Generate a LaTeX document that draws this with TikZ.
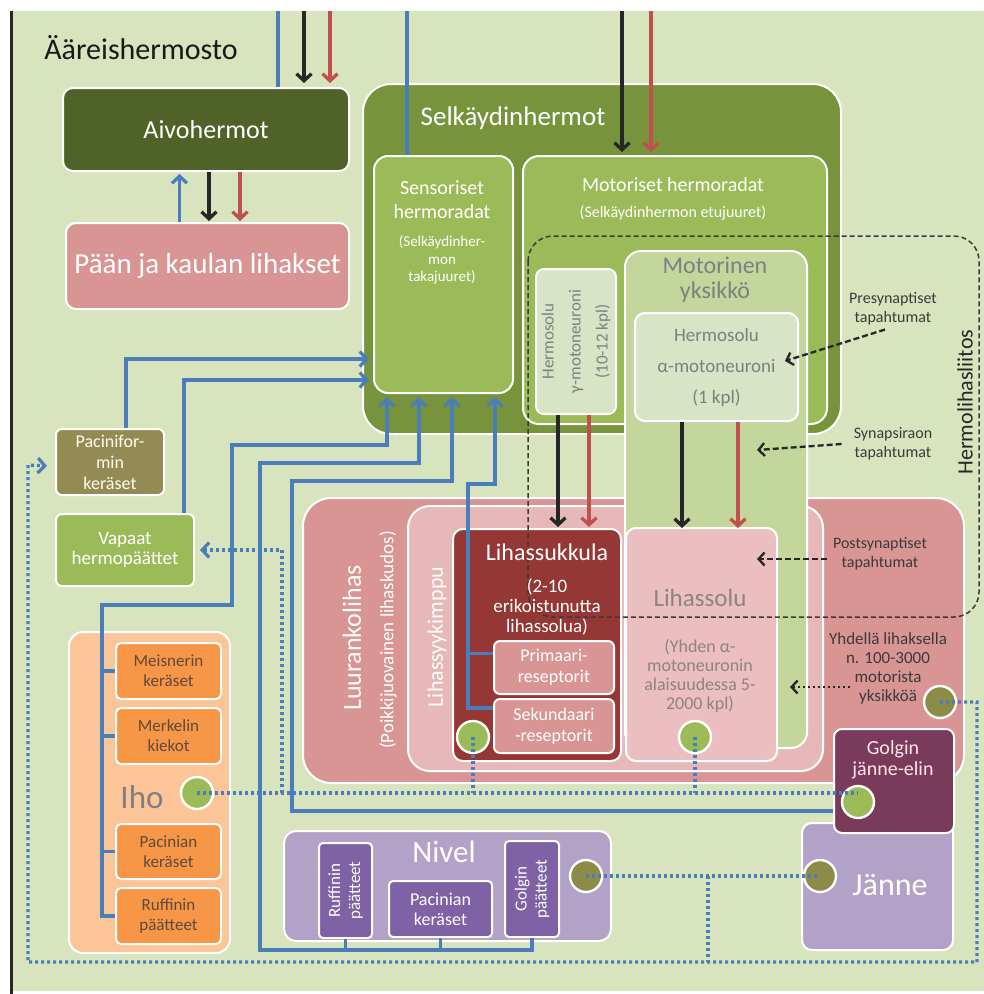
\documentclass[tikz,border=0pt]{standalone}
\usepackage{fontspec}
\setmainfont{Carlito}
\usepackage{tikz}
\usetikzlibrary{arrows.meta}

\definecolor{bgreen}{HTML}{D7E4BD}
\definecolor{dgreen}{HTML}{4F6228}
\definecolor{selk}{HTML}{77933C}
\definecolor{sens}{HTML}{9BBB59}
\definecolor{pale}{HTML}{D8E4C6}
\definecolor{mgreen}{HTML}{C3D69B}
\definecolor{rose}{HTML}{D99594}
\definecolor{blush}{HTML}{E6B9B8}
\definecolor{soluc}{HTML}{EBBFBF}
\definecolor{wine}{HTML}{953735}
\definecolor{plum}{HTML}{7A3B5B}
\definecolor{lilac}{HTML}{B3A2C7}
\definecolor{violet}{HTML}{7F62A5}
\definecolor{peach}{HTML}{FBC598}
\definecolor{orng}{HTML}{F79646}
\definecolor{khaki}{HTML}{948A54}
\definecolor{nblue}{HTML}{4A7EBB}
\definecolor{mred}{HTML}{C0504D}
\definecolor{mblack}{HTML}{262626}
\definecolor{olive}{HTML}{8C8C48}
\definecolor{graytxt}{HTML}{7F7F7F}
\definecolor{notetxt}{HTML}{3A3A3A}
\definecolor{solutxt}{HTML}{8F8283}
\definecolor{ihotxt}{HTML}{5C4A3C}

\begin{document}
\begin{tikzpicture}[x=1pt,y=-1pt,
    box/.style={draw=white,line width=2pt,inner sep=0pt,anchor=north west,rounded corners=#1},
    box/.default=8pt,
    ball/.style={circle,draw=white,line width=2.4pt,minimum size=32pt,inner sep=0pt,fill=#1},
    lbl/.style={align=center,inner sep=0pt},
    tip/.style={-{Straight Barb[length=7pt,width=15pt]}},
    nerve/.style={draw=nblue,line width=3.3pt},
    mot/.style={draw=#1,line width=3.3pt},
    sig/.style={draw=nblue,line width=3.2pt,dash pattern=on 3pt off 3pt},
    note/.style={draw=mblack,line width=2.3pt,dash pattern=on 6pt off 3pt,-{Straight Barb[length=6pt,width=13pt]}},
    frame/.style={draw=notetxt,line width=1.5pt,dash pattern=on 5pt off 3pt,rounded corners=25pt}]
    \useasboundingbox (0,0) rectangle (984,994);
    \fill[bgreen] (12,11) rectangle (984,991);
    \draw[line width=3pt,black!85] (11,11) -- (11,994);

    % spinal nerves
    \node[box=28pt,fill=selk,minimum width=478pt,minimum height=350pt] (selk) at (362,83) {};
    \node[box=14pt,fill=sens,minimum width=139pt,minimum height=237pt] (sens) at (373,155) {};
    \node[box=16pt,fill=sens,minimum width=304pt,minimum height=268pt] (motor) at (522,155) {};
    \node[box,fill=pale,minimum width=80pt,minimum height=145pt] (gamma) at (535,268) {};

    % muscle
    \node[box=28pt,fill=rose,minimum width=661pt,minimum height=285pt] (luu) at (302,497) {};
    \node[box=22pt,fill=blush,minimum width=415pt,minimum height=265pt] (kimppu) at (407,505) {};
    \node[box=10pt,fill=wine,minimum width=168pt,minimum height=232pt] (sukkula) at (452,528) {};
    \node[box=6pt,fill=rose,minimum width=120pt,minimum height=53pt] (prim) at (493,640) {};
    \node[box=6pt,fill=rose,minimum width=120pt,minimum height=54pt] (sek) at (493,698) {};
    \node[box=16pt,fill=mgreen,minimum width=182pt,minimum height=497pt] (yks) at (624,250) {};
    \node[box=10pt,fill=pale,minimum width=163pt,minimum height=108pt] (alpha) at (634,312) {};
    \node[box=10pt,fill=soluc,minimum width=151pt,minimum height=233pt] (solu) at (625,527) {};

    % tendon and joint
    \node[box=10pt,fill=lilac,minimum width=151pt,minimum height=127pt] (janne) at (801,822) {};
    \node[box=8pt,fill=plum,minimum width=120pt,minimum height=104pt] (golgi) at (833,728) {};
    \node[box=12pt,fill=lilac,minimum width=327pt,minimum height=110pt] (nivel) at (283,830) {};
    \node[box=4pt,fill=violet,minimum width=53pt,minimum height=95pt] (ruffn) at (318,842) {};
    \node[box=4pt,fill=violet,minimum width=103pt,minimum height=56pt] (pacn) at (388,880) {};
    \node[box=4pt,fill=violet,minimum width=54pt,minimum height=96pt] (golgn) at (504,840) {};

    % skin
    \node[box=14pt,fill=peach,minimum width=161pt,minimum height=321pt] (iho) at (68,631) {};
    \node[box=5pt,fill=orng,minimum width=105pt,minimum height=56pt] (meis) at (115,642) {};
    \node[box=5pt,fill=orng,minimum width=105pt,minimum height=56pt] (merk) at (115,707) {};
    \node[box=5pt,fill=orng,minimum width=105pt,minimum height=55pt] (paci) at (115,823) {};
    \node[box=5pt,fill=orng,minimum width=105pt,minimum height=56pt] (ruffi) at (115,887) {};
    \node[box=6pt,fill=khaki,minimum width=108pt,minimum height=66pt] (pacif) at (55,428) {};
    \node[box=6pt,fill=sens,minimum width=138pt,minimum height=72pt] (vapaat) at (55,513) {};

    % head
    \node[box=10pt,fill=dgreen,minimum width=286pt,minimum height=83pt] (aivo) at (62,87) {};
    \node[box=10pt,fill=rose,minimum width=283pt,minimum height=86pt] (paan) at (65,222) {};

    \node[ball=sens] (csuk) at (473,737) {};
    \node[ball=sens] (csol) at (695,737) {};
    \node[ball=olive] (cyhd) at (940,702) {};
    \node[ball=sens] (cgol) at (858,802) {};
    \node[ball=sens] (ciho) at (197,793) {};
    \node[ball=olive] (cniv) at (586,876) {};
    \node[ball=olive] (cjan) at (820,876) {};

    \coordinate (t1) at (278,11);
    \coordinate (t2) at (304,11);
    \coordinate (t3) at (330,11);
    \coordinate (t4) at (407,11);
    \coordinate (t5) at (622,11);
    \coordinate (t6) at (651,11);
    \coordinate (in1) at (369,359);
    \coordinate (in2) at (369,380);
    \coordinate (vj) at (282,793);

    % up and down
    \draw[nerve] (t1) -- (t1 |- aivo.north);
    \draw[mot=mblack,tip] (t2) -- ++(0,72);
    \draw[mot=mred,tip] (t3) -- ++(0,72);
    \draw[nerve,tip] ([xshift=-28pt]paan.north) -- ++(0,-48);
    \draw[mot=mblack,tip] ([xshift=3pt]aivo.south) -- ++(0,49);
    \draw[mot=mred,tip] ([xshift=34pt]aivo.south) -- ++(0,49);
    \draw[nerve] (t4) -- (t4 |- sens.north);
    \draw[mot=mblack,tip] (t5) -- ++(0,141);
    \draw[mot=mred,tip] (t6) -- ++(0,141);
    \draw[mot=mblack,tip] ([xshift=-18pt]gamma.south) -- ++(0,112);
    \draw[mot=mred,tip] ([xshift=13pt]gamma.south) -- ++(0,112);
    \draw[mot=mblack,tip] ([xshift=-34.5pt]alpha.south) -- ++(0,106);
    \draw[mot=mred,tip] ([xshift=21.5pt]alpha.south) -- ++(0,106);

    % sensory paths
    \draw[nerve,tip] ([xshift=16pt]pacif.north) |- (in1);
    \draw[nerve,tip] ([xshift=59pt]vapaat.north) |- (in2);
    \draw[nerve,tip] (ruffi.west) -| (102,605) -| (232,445) -| ([xshift=14pt,yshift=-3pt]sens.south west);
    \draw[nerve] (meis.west) -- ++(-13,0);
    \draw[nerve] (merk.west) -- ++(-13,0);
    \draw[nerve] (paci.west) -- ++(-13,0);
    \draw[nerve,tip] (golgn.south) -- ++(0,12) -| (260,463) -| ([xshift=46pt,yshift=-3pt]sens.south west);
    \draw[nerve] (ruffn.south) -- ++(0,11);
    \draw[nerve] (pacn.south) -- ++(0,12);
    \draw[nerve,tip] ([yshift=-30pt]golgi.west) -| (292,481) -| ([xshift=79pt,yshift=-3pt]sens.south west);
    \draw[nerve,tip] ([yshift=18pt]sek.west) -| (468,484) -| ([xshift=122pt,yshift=-3pt]sens.south west);
    \draw[nerve] ([yshift=14pt]prim.west) -- ++(-25,0);

    % receptor signals
    \draw[sig] (ciho.center) -- (cgol.center |- ciho.center);
    \draw[sig] (csuk.center) -- (csuk.center |- ciho.center);
    \draw[sig] (csol.center) -- (csol.center |- ciho.center);
    \draw[sig,tip] (vj) |- ([xshift=5pt]vapaat.east);
    \draw[sig] (cniv.center) -- (cjan.center);
    \draw[sig] (708,876) -- (708,962);
    \draw[sig,tip] (cyhd.center) -| (977,962) -| (28,465) -- ([xshift=-8pt,yshift=-4pt]pacif.west);

    \draw[frame] (528,236) rectangle (979,617);

    % texts
    \node[lbl,black!90,font=\fontsize{30}{36}\selectfont] (title) at (141,48) {Ääreishermosto};
    \node[lbl,white,font=\fontsize{26}{30}\selectfont] at (aivo.center) {Aivohermot};
    \node[lbl,white,font=\fontsize{29}{34}\selectfont] at (paan.center) {Pään ja kaulan lihakset};
    \node[lbl,white,font=\fontsize{27}{32}\selectfont] (selkt) at (513,118) {Selkäydinhermot};
    \node[lbl,white,font=\fontsize{20}{24}\selectfont] (senst) at (442,200) {Sensoriset\\hermoradat};
    \node[lbl,white,font=\fontsize{15}{17.5}\selectfont] at (442,260) {(Selkäydinher-\\mon\\takajuuret)};
    \node[lbl,white,font=\fontsize{20}{24}\selectfont] (motort) at (673,185) {Motoriset hermoradat};
    \node[lbl,white,font=\fontsize{16}{19}\selectfont] at (673,213) {(Selkäydinhermon etujuuret)};
    \node[lbl,graytxt,rotate=90,font=\fontsize{17}{27}\selectfont] at (gamma.center) {Hermosolu\\γ-motoneuroni\\(10-12 kpl)};
    \node[lbl,graytxt,font=\fontsize{24}{25}\selectfont] (ykst) at (715,280) {Motorinen\\yksikkö};
    \node[lbl,graytxt,font=\fontsize{19}{31}\selectfont] at (alpha.center) {Hermosolu\\α-motoneuroni\\(1 kpl)};
    \node[lbl,notetxt,font=\fontsize{16}{19}\selectfont] (pre) at (893,309) {Presynaptiset\\tapahtumat};
    \node[lbl,notetxt,font=\fontsize{16}{19}\selectfont] (syn) at (893,444) {Synapsiraon\\tapahtumat};
    \node[lbl,notetxt,font=\fontsize{16}{19}\selectfont] (post) at (880,554) {Postsynaptiset\\tapahtumat};
    \node[lbl,black!85,rotate=90,font=\fontsize{22}{26}\selectfont] at (965,402) {Hermolihasliitos};
    \node[lbl,notetxt,font=\fontsize{17}{19}\selectfont] (yhd) at (888,668) {Yhdellä lihaksella\\n. 100-3000\\motorista\\yksikköä};
    \node[lbl,white,rotate=90,font=\fontsize{26}{30}\selectfont] at (352,638) {Luurankolihas};
    \node[lbl,white,rotate=90,font=\fontsize{19}{22}\selectfont] at (388,640) {(Poikkijuovainen lihaskudos)};
    \node[lbl,white,rotate=90,font=\fontsize{22}{26}\selectfont] at (437,637) {Lihassyykimppu};
    \node[lbl,white,font=\fontsize{24}{28}\selectfont] at (547,552) {Lihassukkula};
    \node[lbl,white,font=\fontsize{19}{20}\selectfont] at (547,607) {(2-10\\erikoistunutta\\lihassolua)};
    \node[lbl,white,font=\fontsize{18}{21}\selectfont] at (prim.center) {Primaari-\\reseptorit};
    \node[lbl,white,font=\fontsize{18}{21}\selectfont] at (sek.center) {Sekundaari\\-reseptorit};
    \node[lbl,solutxt,font=\fontsize{25}{28}\selectfont] at (700,598) {Lihassolu};
    \node[lbl,solutxt,font=\fontsize{18}{19}\selectfont] at (700,676) {(Yhden α-\\motoneuronin\\alaisuudessa 5-\\2000 kpl)};
    \node[lbl,white!90!red,font=\fontsize{20}{21}\selectfont] at (893,760) {Golgin\\jänne-elin};
    \node[lbl,white,font=\fontsize{32}{36}\selectfont] at (890,885) {Jänne};
    \node[lbl,white,font=\fontsize{31}{36}\selectfont] at (444,852) {Nivel};
    \node[lbl,white,rotate=90,font=\fontsize{17}{20}\selectfont] at (ruffn.center) {Ruffinin\\päätteet};
    \node[lbl,white,rotate=90,font=\fontsize{17}{20}\selectfont] at (golgn.center) {Golgin\\päätteet};
    \node[lbl,white,font=\fontsize{18}{20}\selectfont] at (pacn.center) {Pacinian\\keräset};
    \node[lbl,graytxt,font=\fontsize{33}{36}\selectfont] at (142,797) {Iho};
    \node[lbl,ihotxt,font=\fontsize{17}{20}\selectfont] at (meis.center) {Meisnerin\\keräset};
    \node[lbl,ihotxt,font=\fontsize{17}{20}\selectfont] at (merk.center) {Merkelin\\kiekot};
    \node[lbl,ihotxt,font=\fontsize{17}{20}\selectfont] at (paci.center) {Pacinian\\keräset};
    \node[lbl,ihotxt,font=\fontsize{17}{20}\selectfont] at (ruffi.center) {Ruffinin\\päätteet};
    \node[lbl,white!92!yellow,font=\fontsize{18}{21}\selectfont] at (pacif.center) {Pacinifor-\\min\\keräset};
    \node[lbl,white,font=\fontsize{19}{20}\selectfont] at (vapaat.center) {Vapaat\\hermopäättet};

    \draw[note] ([xshift=-8pt,yshift=-4pt]pre.south) -- ([xshift=-14pt,yshift=6pt]alpha.east);
    \draw[note] ([xshift=-12pt]syn.west) -- (757,450);
    \draw[note] ([xshift=-6pt,yshift=-5pt]post.west) -- (757,559);
    \draw[draw=mblack,line width=2.3pt,dash pattern=on 2.5pt off 2.5pt,-{Straight Barb[length=6pt,width=13pt]}] (850,687) -- (790,687);
\end{tikzpicture}
\end{document}
